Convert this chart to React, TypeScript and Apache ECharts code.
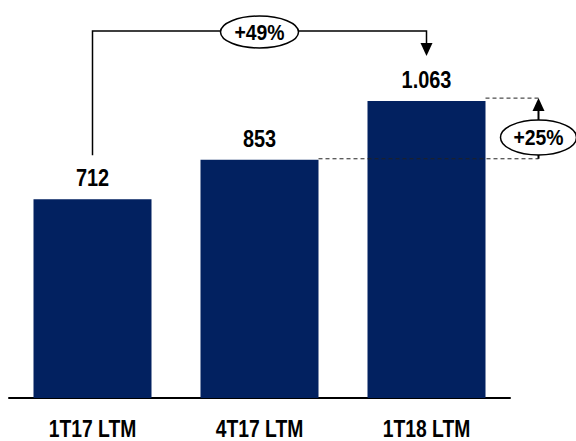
import React, { useEffect, useRef } from "react";
import * as echarts from "echarts";

const categories = ["1T17 LTM", "4T17 LTM", "1T18 LTM"];
const values = [712, 853, 1063];
const valueLabels = ["712", "853", "1.063"];
const growthTotal = "+49%";
const growthLast = "+25%";

const FONT = "'Liberation Sans', Arial, sans-serif";
const BAR_COLOR = "#022160";
const NARROW = 0.83;

export default function App() {
  const ref = useRef<HTMLDivElement>(null);
  useEffect(() => {
    if (!ref.current) return;
    const chart = echarts.init(ref.current, null, { renderer: "svg" });
    const barWidth = 118;
    chart.setOption({
      animation: false,
      grid: { left: 9, right: 66, top: 7, bottom: 43 },
      xAxis: {
        type: "category",
        data: categories,
        axisLine: { lineStyle: { color: "#000", width: 2 } },
        axisTick: { show: false },
        axisLabel: { show: false },
      },
      yAxis: { type: "value", min: 0, max: 1400, show: false, splitLine: { show: false } },
      series: [
        {
          type: "bar",
          data: values,
          barWidth,
          itemStyle: { color: BAR_COLOR },
        },
      ],
    });

    const pt = (i: number) => chart.convertToPixel({ seriesIndex: 0 }, [i, values[i]]) as number[];
    const p0 = pt(0);
    const p1 = pt(1);
    const p2 = pt(2);
    const base = chart.convertToPixel({ seriesIndex: 0 }, [0, 0]) as number[];
    const half = barWidth / 2;
    const lineY = 31;
    const stroke = { stroke: "#000", lineWidth: 1.5, fill: "none" };
    const dash = { stroke: "#222", lineWidth: 1, lineDash: [4, 3] };
    const arrowX = p2[0] + half + 53;
    const midY = (p2[1] + p1[1]) / 2 + 7;
    const topY = p2[1] - 3;
    const cx49 = (p0[0] + p2[0]) / 2;

    const txt = (text: string, x: number, y: number, size: number, scaleX = NARROW) => ({
      type: "text",
      x,
      y,
      scaleX,
      style: { text, fontSize: size, fontWeight: "bold", fontFamily: FONT, fill: "#000", align: "center", verticalAlign: "middle" },
      z: 12,
    });

    const pts = [p0, p1, p2];
    const valueTexts = pts.map((p, i) => txt(valueLabels[i], p[0], p[1] - 21, 24));
    const catTexts = pts.map((p, i) => txt(categories[i], p[0], base[1] + 31, 23, 0.84));

    chart.setOption({
      graphic: [
        ...valueTexts,
        ...catTexts,
        { type: "polyline", shape: { points: [[p0[0], p0[1] - 44], [p0[0], lineY], [p2[0], lineY], [p2[0], p2[1] - 58]] }, style: stroke, z: 10 },
        { type: "polygon", shape: { points: [[p2[0] - 6, p2[1] - 58], [p2[0] + 6, p2[1] - 58], [p2[0], p2[1] - 45]] }, style: { fill: "#000" }, z: 10 },
        { type: "ellipse", shape: { cx: cx49, cy: lineY + 1, rx: 39, ry: 16 }, style: { fill: "#fff", stroke: "#000", lineWidth: 1.5 }, z: 11 },
        txt(growthTotal, cx49, lineY + 1, 22, 0.88),
        { type: "line", shape: { x1: p2[0] + half, y1: topY, x2: arrowX, y2: topY }, style: dash, z: 10 },
        { type: "line", shape: { x1: p1[0] + half, y1: p1[1] - 1, x2: arrowX, y2: p1[1] - 1 }, style: dash, z: 10 },
        { type: "line", shape: { x1: arrowX, y1: p1[1] - 1, x2: arrowX, y2: topY + 12 }, style: { stroke: "#000", lineWidth: 2 }, z: 10 },
        { type: "polygon", shape: { points: [[arrowX - 6, topY + 13], [arrowX + 6, topY + 13], [arrowX, topY]] }, style: { fill: "#000" }, z: 10 },
        { type: "ellipse", shape: { cx: arrowX, cy: midY, rx: 38, ry: 17.5 }, style: { fill: "#fff", stroke: "#000", lineWidth: 1.5 }, z: 11 },
        txt(growthLast, arrowX, midY, 22, 0.88),
      ],
    });
    return () => chart.dispose();
  }, []);
  return <div ref={ref} style={{ width: 576, height: 441, position: "absolute", left: 0, top: 0, background: "#fff" }} />;
}
